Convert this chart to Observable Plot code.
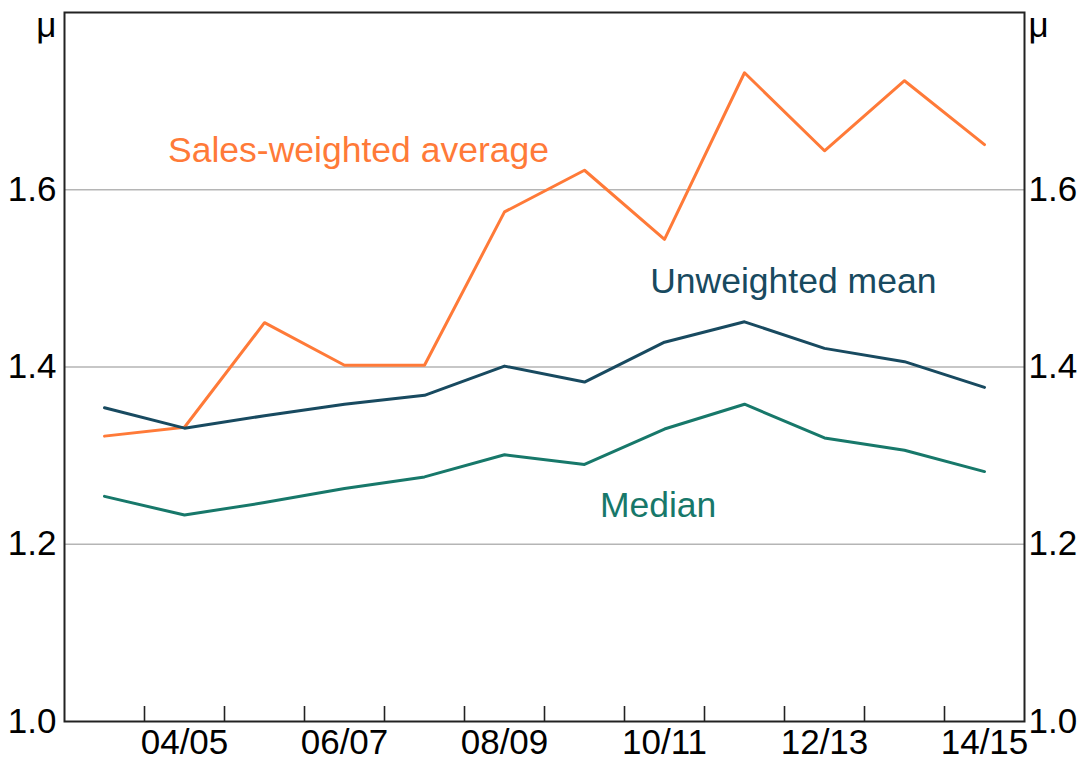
<!DOCTYPE html>
<html>
<head>
<meta charset="utf-8">
<script src="https://cdn.jsdelivr.net/npm/d3@7"></script>
<script src="https://cdn.jsdelivr.net/npm/@observablehq/plot@0.6"></script>
<style>
  html, body { margin: 0; padding: 0; background: #fff; overflow: hidden; }
</style>
</head>
<body>
<div id="chart"></div>
<script>
// Fiscal years (categories)
const years = ["03/04","04/05","05/06","06/07","07/08","08/09","09/10","10/11","11/12","12/13","13/14","14/15"];
// Series values
const salesWeighted  = [1.322, 1.332, 1.450, 1.402, 1.402, 1.575, 1.622, 1.544, 1.732, 1.644, 1.723, 1.651];
const unweightedMean = [1.354, 1.331, 1.345, 1.358, 1.368, 1.401, 1.383, 1.428, 1.451, 1.421, 1.406, 1.377];
const median         = [1.254, 1.233, 1.247, 1.263, 1.276, 1.301, 1.290, 1.330, 1.358, 1.320, 1.306, 1.282];
// Tick labels
const yTicks = [1.0, 1.2, 1.4, 1.6];
const labeledYears = ["04/05","06/07","08/09","10/11","12/13","14/15"];
const unitLabel = "μ";
const seriesNames = ["Sales-weighted average", "Unweighted mean", "Median"];
const seriesColors = ["#ff7a38", "#184a60", "#17786a"];

// Build the tidy table
const seriesValues = [salesWeighted, unweightedMean, median];
const rows = [];
seriesNames.forEach((name, s) => {
  seriesValues[s].forEach((v, i) => rows.push({series: name, idx: i + 0.5, year: years[i], value: v}));
});

// Direct labels (annotation anchors, in data space)
const labels = [
  {series: "Sales-weighted average", idx: 3.675, value: 1.644},
  {series: "Unweighted mean",        idx: 9.11,  value: 1.4965},
  {series: "Median",                 idx: 7.42,  value: 1.244}
];

const font = "'Liberation Sans', Arial, sans-serif";
const frameH = 761 - 12 - 40;

const chart = Plot.plot({
  width: 1082,
  height: 761,
  marginLeft: 64,
  marginRight: 58,
  marginTop: 12,
  marginBottom: 40,
  style: {fontFamily: font, fontSize: "35px", background: "#fff", color: "#000"},
  x: {type: "linear", domain: [0, years.length], axis: null},
  y: {domain: [1.0, 1.8], axis: null},
  color: {domain: seriesNames, range: seriesColors},
  marks: [
    Plot.gridY(yTicks.filter(v => v > 1.0), {stroke: "#b5b5b5", strokeOpacity: 1, strokeWidth: 1.5}),
    Plot.tickX(d3.range(1, years.length), {x: d => d, insetTop: frameH - 15, stroke: "#222", strokeWidth: 1.6}),
    Plot.axisX(labeledYears.map(y => years.indexOf(y) + 0.5), {
      tickSize: 0, tickPadding: 8, fontSize: 35, label: null,
      tickFormat: d => years[Math.round(d - 0.5)]
    }),
    Plot.axisY(yTicks, {anchor: "left", tickSize: 0, tickPadding: 8, fontSize: 35, tickFormat: d3.format(".1f"), label: null}),
    Plot.axisY(yTicks, {anchor: "right", tickSize: 0, tickPadding: 4, fontSize: 35, tickFormat: d3.format(".1f"), label: null}),
    Plot.text([unitLabel], {frameAnchor: "top-left", textAnchor: "end", lineAnchor: "top", dx: -8, text: d => d, fontSize: 35}),
    Plot.text([unitLabel], {frameAnchor: "top-right", textAnchor: "start", lineAnchor: "top", dx: 4, text: d => d, fontSize: 35}),
    Plot.frame({stroke: "#222", strokeWidth: 2}),
    Plot.line(rows, {x: "idx", y: "value", z: "series", stroke: "series", strokeWidth: 3}),
    Plot.text(labels, {x: "idx", y: "value", text: "series", fill: "series", fontSize: 35.5})
  ]
});
document.getElementById("chart").appendChild(chart);
</script>
</body>
</html>
